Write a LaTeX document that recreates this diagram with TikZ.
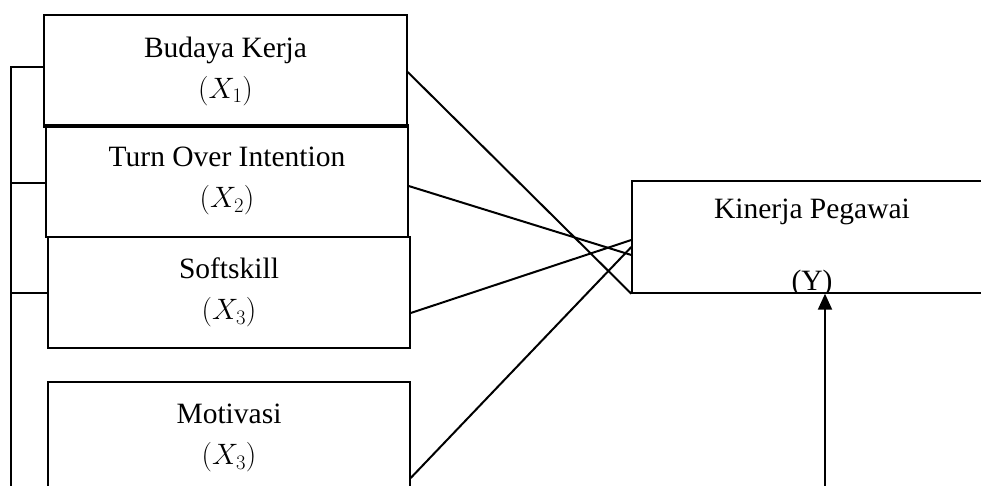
\documentclass[tikz,border=0pt]{standalone}
\usepackage{fix-cm}
\usepackage{fontspec}
\setmainfont{Liberation Serif}
\usetikzlibrary{arrows.meta}
\begin{document}
\begin{tikzpicture}[x=1pt,y=-1pt,
	varbox/.style={draw, line width=1.4pt, inner sep=0pt, align=center, font=\fontsize{29.5}{41}\selectfont},
	link/.style={line width=2pt}]
	    \clip (0,0) rectangle (981,485);
	    
	    \node [varbox, minimum width=363pt, minimum height=112pt] (b1) at (225.5,71) {Budaya Kerja\\$(X_1)$};
	    \node [varbox, minimum width=362pt, minimum height=112pt] (b2) at (227,181) {Turn Over Intention\\$(X_2)$};
	    \node [varbox, minimum width=362pt, minimum height=111pt] (b3) at (229,292.5) {Softskill\\$(X_3)$};
	    \node [varbox, minimum width=362pt, minimum height=112pt] (b4) at (229,438) {Motivasi\\$(X_3)$};
	    
	    \node [varbox, minimum width=360pt, minimum height=112pt] (Y) at (812,237) {};
	    \node [font=\fontsize{29.5}{41}\selectfont, inner sep=0pt] (Ylab) at (812,212) {Kinerja Pegawai};
	    \begin{scope}
	    	\clip (Y.south west) rectangle (Y.north east);
	    	\node [font=\fontsize{29.5}{41}\selectfont, inner sep=0pt] (Ysym) at (812,283) {(Y)};
	    \end{scope}
	    
	    \coordinate (busB) at (11,490);
	    \coordinate (ctrl) at (825,490);
	    
		\draw [link] ([yshift=4pt]b1.west) -| (busB);
		\draw [link] ([yshift=-2pt]b2.west) -- ([yshift=-2pt]b2.west -| busB);
		\draw [link] (b3.west) -- (b3.west -| busB);
		
		\draw [link] ([yshift=-1pt]b1.east) -- (Y.south west);
		\draw [link] ([yshift=-5pt]b2.east) -- ([yshift=-18pt]Y.west);
		\draw [link] ([yshift=-20.5pt]b3.east) -- ([yshift=-3pt]Y.west);
		\draw [link] ([yshift=-40pt]b4.east) -- ([yshift=-10pt]Y.west);
		
		\draw [link, -{Triangle[length=16pt,width=14pt]}] (ctrl) -- (ctrl |- Y.south);
		
	\end{tikzpicture}
\end{document}
